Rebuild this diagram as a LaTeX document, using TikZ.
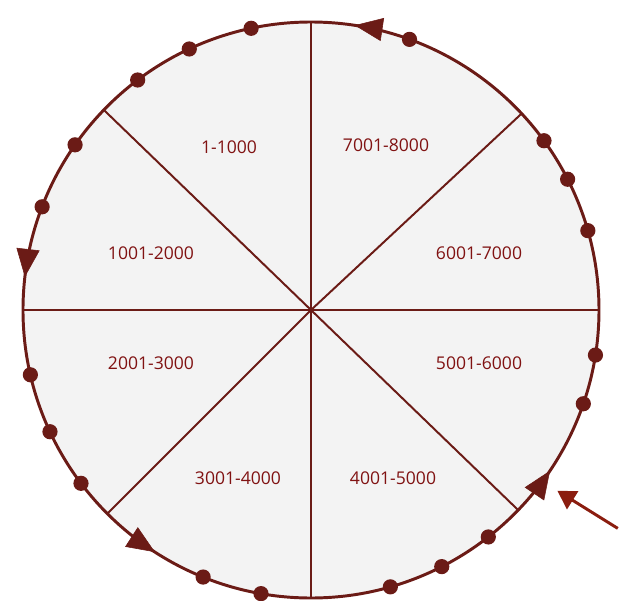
\documentclass[tikz,border=0pt]{standalone}
\usepackage{fontspec}
\setmainfont{Open Sans}
\usetikzlibrary{arrows.meta,decorations.markings}
\definecolor{wine}{HTML}{6B1B16}
\definecolor{winetext}{HTML}{801212}
\definecolor{pointred}{HTML}{8B1D0F}
\definecolor{pale}{HTML}{F3F3F3}
\begin{document}
\begin{tikzpicture}[
  ring/.style={circle,draw=wine,fill=pale,line width=2.1pt,inner sep=0pt,outer sep=0pt,minimum size=14.4cm},
  spoke/.style={draw=wine,line width=1.4pt},
  bucket/.style={text=winetext,font=\fontsize{12.5}{14}\selectfont},
  flow/.style={decoration={markings,
    mark=at position 0.2258 with {\arrow{Triangle[length=0.7cm,width=0.58cm]}},
    mark=at position 0.4817 with {\arrow{Triangle[length=0.7cm,width=0.58cm]}},
    mark=at position 0.6589 with {\arrow{Triangle[length=0.7cm,width=0.58cm]}},
    mark=at position 0.9058 with {\arrow{Triangle[length=0.7cm,width=0.58cm]}}},
    postaction={decorate}}]
\useasboundingbox (-7.775,-7.25) rectangle (7.725,7.75);
\node[ring] (ring) at (0,0) {};
% sector borders
\foreach \a in {90,270,0.6,180.6,43.7,225.8,136.3,316.2}
  \draw[spoke] (ring.center) -- (ring.\a);
% direction marks on the rim
\path[wine,flow] (ring.center) circle (7.2);
% points on the rim
\foreach \a in {102.9,115.3,127.5,145.6,159.1,70.1,36.9,27.1,16.9,-9.0,-19.4,
  193.7,205.9,217.3,248.9,260.9,286.6,297.6,308.2}
  \fill[wine] (ring.\a) circle (0.19);
% ranges
\node[bucket] (r1) at (-2.05,4.075) {1-1000};
\node[bucket] (r2) at (-4.0,1.425) {1001-2000};
\node[bucket] (r3) at (-4.0,-1.325) {2001-3000};
\node[bucket] (r4) at (-1.825,-4.2) {3001-4000};
\node[bucket] (r5) at (2.05,-4.2) {4001-5000};
\node[bucket] (r6) at (4.2,-1.325) {5001-6000};
\node[bucket] (r7) at (4.2,1.425) {6001-7000};
\node[bucket] (r8) at (1.875,4.125) {7001-8000};
% entry pointer
\coordinate (start) at (7.67,-5.46);
\coordinate (entry) at (6.16,-4.52);
\draw[pointred,line width=2.1pt,-{Triangle[length=0.45cm,width=0.52cm]}] (start) -- (entry);
\end{tikzpicture}
\end{document}
